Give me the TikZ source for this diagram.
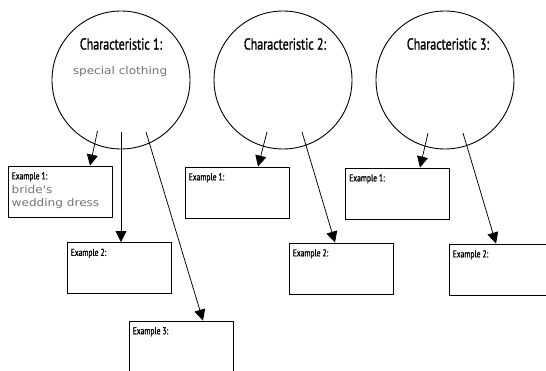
\documentclass[tikz,border=0pt]{standalone}
\usepackage{fontspec}
\setmainfont{PT Sans}[FakeStretch=0.75,FakeBold=1.2]
\newfontfamily\handfont{DejaVu Sans}[FakeStretch=1.15]
\usetikzlibrary{arrows.meta}

\begin{document}
\begin{tikzpicture}[x=1pt,y=-1pt,
    charcircle/.style={draw,circle,minimum size=138pt,inner sep=0pt,line width=0.9pt},
    exbox/.style={draw,rectangle,minimum width=104pt,minimum height=51pt,inner sep=0pt,line width=0.9pt},
    ttl/.style={font=\fontsize{16}{18}\selectfont},
    extxt/.style={anchor=north west,inner sep=0pt,font=\fontsize{10}{12}\selectfont},
    hand/.style={anchor=north west,inner sep=0pt,align=left,text=black!55,font=\handfont\fontsize{10.5}{12.7}\selectfont},
    arr/.style={-{Triangle[length=11pt,width=11pt]},line width=0.75pt}]
            \useasboundingbox (0,0) rectangle (546,371);
            \clip (0,0) rectangle (546,371);
            \node[charcircle] (c1) at (121,80) {};
            \node[charcircle] (c2) at (283,80) {};
            \node[charcircle] (c3) at (445,80) {};
            \node[ttl] (t1) at (121,44) {Characteristic 1:};
            \node[ttl] (t2) at (285,44) {Characteristic 2:};
            \node[ttl] (t3) at (448,44) {Characteristic 3:};
            \node[hand,anchor=center] (h1) at (120,72) {special clothing};
            \node[exbox] (b11) at (60,191.5) {};
            \node[exbox] (b12) at (119,268) {};
            \node[exbox] (b13) at (181,346.5) {};
            \node[exbox] (b21) at (237,192.5) {};
            \node[exbox] (b22) at (341,268.5) {};
            \node[exbox] (b31) at (397.5,193.5) {};
            \node[exbox] (b32) at (501,269.5) {};
            \node[extxt] (e11) at ([shift={(4,6.5)}]b11.north west) {Example 1:};
            \node[hand] (h2) at ([shift={(4,20)}]b11.north west) {bride's\\wedding dress};
            \node[extxt] (e12) at ([shift={(4,6.5)}]b12.north west) {Example 2:};
            \node[extxt] (e13) at ([shift={(4,6.5)}]b13.north west) {Example 3:};
            \node[extxt] (e21) at ([shift={(4,6.5)}]b21.north west) {Example 1:};
            \node[extxt] (e22) at ([shift={(4,6.5)}]b22.north west) {Example 2:};
            \node[extxt] (e31) at ([shift={(4,6.5)}]b31.north west) {Example 1:};
            \node[extxt] (e32) at ([shift={(4,6.5)}]b32.north west) {Example 2:};
            \draw[arr] ([shift={(-23.5,51)}]c1.center) -- ([xshift=30pt]b11.north);
            \draw[arr] ([shift={(0,52)}]c1.center) -- ([xshift=2pt]b12.north);
            \draw[arr] ([shift={(25,52)}]c1.center) -- ([xshift=22pt]b13.north);
            \draw[arr] ([shift={(-16,52)}]c2.center) -- ([xshift=21pt]b21.north);
            \draw[arr] ([shift={(19,52)}]c2.center) -- ([xshift=-6pt]b22.north);
            \draw[arr] ([shift={(-17,53)}]c3.center) -- ([xshift=22.5pt]b31.north);
            \draw[arr] ([shift={(18,53)}]c3.center) -- ([xshift=-5pt]b32.north);
        \end{tikzpicture}
\end{document}
